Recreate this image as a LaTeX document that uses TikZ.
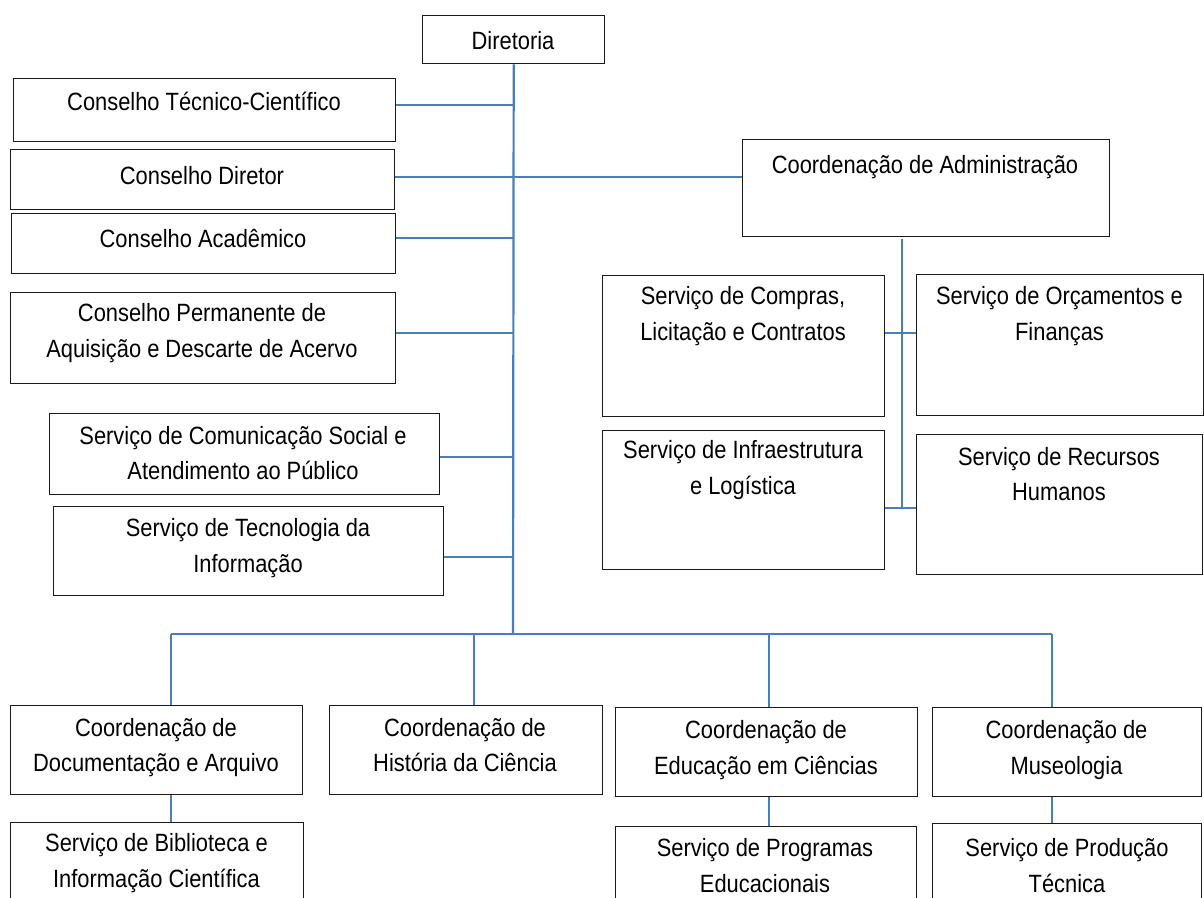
\documentclass[tikz,border=0pt]{standalone}
\usepackage{fontspec}
\setmainfont{Liberation Sans}[FakeStretch=0.875]
\definecolor{linkblue}{HTML}{4A7EBB}
\definecolor{boxline}{HTML}{1A1A1A}
\tikzset{
  box/.style={draw=boxline, line width=1.4pt, inner sep=0pt, anchor=north west},
  txt/.style={font=\fontsize{25}{35.5}\selectfont, align=center, inner sep=0pt,
    execute at begin node=\strut, execute at end node=\strut},
  link/.style={draw=linkblue, line width=2.2pt},
}
\begin{document}
\begin{tikzpicture}[x=1pt,y=-1pt]
\clip (0,0) rectangle (1204,897);
\fill[white] (0,0) rectangle (1204,897);

% boxes
\node[box, minimum width=182pt, minimum height=48pt] (dir) at (422,15) {};
\node[box, minimum width=382pt, minimum height=63pt] (ctc) at (13,78) {};
\node[box, minimum width=384pt, minimum height=60pt] (cd) at (10,149) {};
\node[box, minimum width=384pt, minimum height=60pt] (ca) at (11,213) {};
\node[box, minimum width=385pt, minimum height=91pt] (cp) at (10,292) {};
\node[box, minimum width=390pt, minimum height=81pt] (scs) at (49,413) {};
\node[box, minimum width=390pt, minimum height=89pt] (sti) at (53,506) {};
\node[box, minimum width=367pt, minimum height=97pt] (adm) at (742,139) {};
\node[box, minimum width=282pt, minimum height=141pt] (comp) at (602,275) {};
\node[box, minimum width=287pt, minimum height=141pt] (orc) at (916,274) {};
\node[box, minimum width=282pt, minimum height=139pt] (inf) at (602,430) {};
\node[box, minimum width=286pt, minimum height=140pt] (rh) at (916,434) {};
\node[box, minimum width=292pt, minimum height=89pt] (doc) at (10,705) {};
\node[box, minimum width=273pt, minimum height=89pt] (hist) at (329,705) {};
\node[box, minimum width=293pt, minimum height=100pt] (bib) at (10,822) {};
\node[box, minimum width=302pt, minimum height=89pt] (edu) at (615,707) {};
\node[box, minimum width=269pt, minimum height=89pt] (mus) at (932,707) {};
\node[box, minimum width=301pt, minimum height=100pt] (prog) at (615,826) {};
\node[box, minimum width=269pt, minimum height=100pt] (prod) at (932,823) {};

% junction coordinates
\coordinate (trunk) at (513,634);
\coordinate (av) at (902,507);
\coordinate (b1) at (171,634);
\coordinate (b2) at (473.7,634);
\coordinate (b3) at (769,634);
\coordinate (b4) at (1052,634);

% connectors
\draw[link] (dir.south) -- (trunk);
\draw[link] ([yshift=5.5pt]ctc.east) -- ([yshift=5.5pt]ctc.east -| trunk);
\draw[link] ([yshift=2.5pt]cd.east) -- ([yshift=2.5pt]cd.east -| adm.west);
\draw[link] ([yshift=6pt]ca.east) -- ([yshift=6pt]ca.east -| trunk);
\draw[link] ([yshift=5.5pt]cp.east) -- ([yshift=5.5pt]cp.east -| trunk);
\draw[link] ([yshift=-2.5pt]scs.east) -- ([yshift=-2.5pt]scs.east -| trunk);
\draw[link] ([yshift=-5.5pt]sti.east) -- ([yshift=-5.5pt]sti.east -| trunk);
\draw[link] ([yshift=-2pt]adm.south -| av) -- (av);
\draw[link] ([yshift=13.5pt]comp.east) -- ([yshift=13.5pt]comp.east -| orc.west);
\draw[link] ([yshift=-7.5pt]inf.east) -- ([yshift=-7.5pt]inf.east -| rh.west);
\draw[link] (b1) -- (b4);
\draw[link] (b1) -- (b1 |- doc.north);
\draw[link] (b2) -- (b2 |- hist.north);
\draw[link] (b3) -- (b3 |- edu.north);
\draw[link] (b4) -- (b4 |- mus.north);
\draw[link] (doc.south -| b1) -- (bib.north -| b1);
\draw[link] (edu.south -| b3) -- (prog.north -| b3);
\draw[link] (mus.south -| b4) -- (prod.north -| b4);

% texts
\node[txt] (t-dir) at (513,42.2) {Diretoria};
\node[txt] (t-ctc) at (204,103.5) {Conselho Técnico-Científico};
\node[txt] (t-cd) at (202,177) {Conselho Diretor};
\node[txt] (t-ca) at (203,240) {Conselho Acadêmico};
\node[txt] (t-cp) at (202,336) {Conselho Permanente de\\Aquisição e Descarte de Acervo};
\node[txt] (t-scs) at (243,458.5) {Serviço de Comunicação Social e\\Atendimento ao Público};
\node[txt] (t-sti) at (248,551) {Serviço de Tecnologia da\\Informação};
\node[txt] (t-adm) at (925,166.5) {Coordenação de Administração};
\node[txt] (t-comp) at (743,319) {Serviço de Compras,\\Licitação e Contratos};
\node[txt] (t-orc) at (1059.5,319) {Serviço de Orçamentos e\\Finanças};
\node[txt] (t-inf) at (743,473) {Serviço de Infraestrutura\\e Logística};
\node[txt] (t-rh) at (1059,479.5) {Serviço de Recursos\\Humanos};
\node[txt] (t-doc) at (156,750.5) {Coordenação de\\Documentação e Arquivo};
\node[txt] (t-hist) at (465,750.5) {Coordenação de\\História da Ciência};
\node[txt] (t-bib) at (156.5,866) {Serviço de Biblioteca e\\Informação Científica};
\node[txt] (t-edu) at (766,753) {Coordenação de\\Educação em Ciências};
\node[txt] (t-mus) at (1066.5,753) {Coordenação de\\Museologia};
\node[txt] (t-prog) at (765,871) {Serviço de Programas\\Educacionais};
\node[txt] (t-prod) at (1067,871) {Serviço de Produção\\Técnica};
\end{tikzpicture}
\end{document}
